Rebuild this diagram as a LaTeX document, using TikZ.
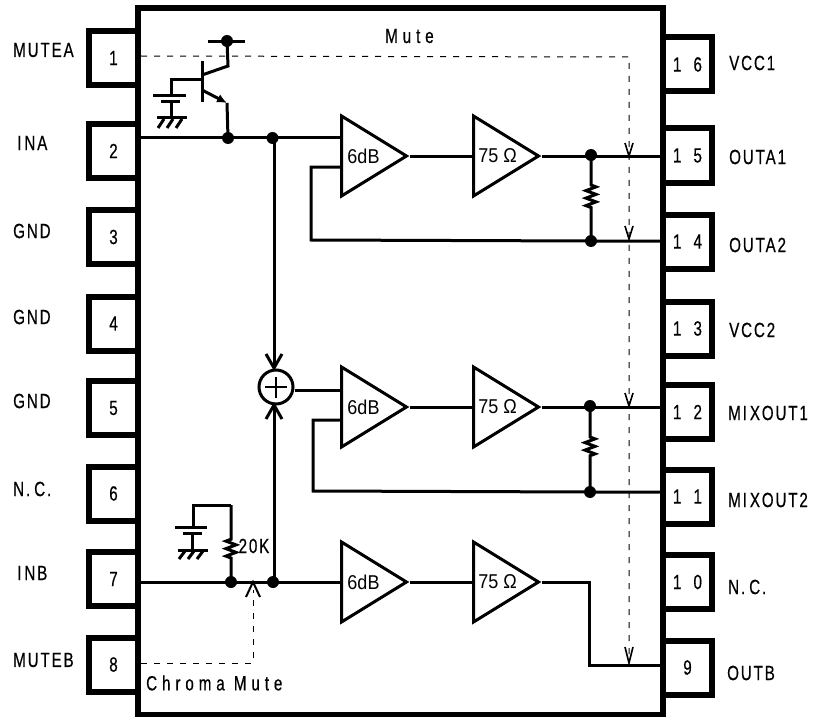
\documentclass[tikz,border=0pt]{standalone}
\usepackage{fontspec}
\setmainfont{Liberation Sans}
\newfontfamily\pinfont[FakeStretch=0.74,LetterSpace=9,FakeBold=0.5]{Liberation Sans}
\newfontfamily\mutefont[FakeStretch=0.74,LetterSpace=24,FakeBold=0.5]{Liberation Sans}
\newfontfamily\ampfont[FakeStretch=0.9]{Liberation Sans}
\usetikzlibrary{arrows.meta,shapes.geometric,decorations.pathmorphing}
\newcommand{\pinnum}[2]{#1 \kern6pt #2}
\tikzset{
  wire/.style={line width=3pt,line join=miter},
  thin wire/.style={line width=2pt},
  chip/.style={draw,rectangle,line width=6pt,inner sep=0pt},
  pin/.style={draw,rectangle,line width=6pt,minimum width=49pt,minimum height=54pt,inner sep=0pt,fill=white,font=\pinfont\fontsize{20.5}{20.5}\selectfont},
  lab/.style={anchor=west,inner sep=0pt,font=\pinfont\fontsize{20.5}{20.5}\selectfont},
  mutelab/.style={anchor=west,inner sep=0pt,font=\mutefont\fontsize{20.5}{20.5}\selectfont},
  amp/.style={draw,isosceles triangle,isosceles triangle stretches,shape border rotate=0,minimum width=80pt,minimum height=65pt,inner sep=0pt,line width=3pt,anchor=lower side,line join=miter},
  amptext/.style={inner sep=0pt,font=\ampfont\fontsize{20}{20}\selectfont},
  dot/.style={circle,fill=black,inner sep=0pt,minimum size=12pt},
  res/.style={wire,decorate,decoration={zigzag,amplitude=5pt,segment length=7.5pt,pre=lineto,post=lineto}},
  mute/.style={line width=1pt,black,dash pattern=on 6pt off 7pt},
  barb/.style={line width=1.6pt,line join=miter},
  tip/.style={-{Straight Barb[length=14pt,width=16pt]}}
}
\begin{document}
\begin{tikzpicture}[x=1pt,y=-1pt]
    \useasboundingbox (0,0) rectangle (815,717);
    % pins
    \node[pin] (pa) at (113.5,58) {1};
    \node[pin] (pb) at (113.5,151) {2};
    \node[pin] (pc) at (113.5,237) {3};
    \node[pin] (pd) at (113.5,323.5) {4};
    \node[pin] (pe) at (113.5,408) {5};
    \node[pin] (pf) at (113.5,493.5) {6};
    \node[pin] (pg) at (113.5,579) {7};
    \node[pin] (ph) at (113.5,664.5) {8};
    \node[pin] (pp) at (687.5,64.5) {\pinnum{1}{6}};
    \node[pin] (po) at (687.5,155.5) {\pinnum{1}{5}};
    \node[pin] (pn) at (687.5,241.5) {\pinnum{1}{4}};
    \node[pin] (pm) at (687.5,328.5) {\pinnum{1}{3}};
    \node[pin] (pl) at (687.5,412) {\pinnum{1}{2}};
    \node[pin] (pk) at (687.5,496.5) {\pinnum{1}{1}};
    \node[pin] (pj) at (687.5,582) {\pinnum{1}{0}};
    \node[pin] (pi) at (687.5,667.5) {9};
    \node[chip,minimum width=525pt,minimum height=706pt,fill=white] (ic) at (400.5,361.5) {};
    % pin names
    \node[lab] (la) at (13,50) {MUTEA};
    \node[lab] (lb) at (17,143) {I\kern3pt NA};
    \node[lab] (lc) at (13,231) {GND};
    \node[lab] (ld) at (13,317) {GND};
    \node[lab] (le) at (13,401) {GND};
    \node[lab] (lf) at (13,489) {N.\kern4pt C.};
    \node[lab] (lg) at (17,573) {I\kern3pt NB};
    \node[lab] (lh) at (13,660) {MUTEB};
    \node[lab] (lp) at (729,63) {VCC1};
    \node[lab] (lo) at (729,157) {OUTA1};
    \node[lab] (ln) at (729,245) {OUTA2};
    \node[lab] (lm) at (729,330) {VCC2};
    \node[lab] (ll) at (728,413) {MI\kern3pt XOUT1};
    \node[lab] (lk) at (728,500) {MI\kern3pt XOUT2};
    \node[lab] (lj) at (728,587) {N.\kern4pt C.};
    \node[lab] (li) at (727,673) {OUTB};
    \node[mutelab] (ma) at (385,36) {Mute};
    \node[mutelab] (mb) at (146,683) {Chroma Mute};
    % amplifiers
    \node[amp] (aa) at (340,156) {};
    \node[amp] (ab) at (472,156) {};
    \node[amp] (ba) at (340,407) {};
    \node[amp] (bb) at (472,407) {};
    \node[amp] (ca) at (340,582) {};
    \node[amp] (cb) at (472,582) {};
    \node[amptext] (ta) at (363.5,156) {6dB};
    \node[amptext] (tb) at (497.5,156) {75 Ω};
    \node[amptext] (tc) at (363.5,407) {6dB};
    \node[amptext] (td) at (497.5,407) {75 Ω};
    \node[amptext] (te) at (363.5,582) {6dB};
    \node[amptext] (tf) at (497.5,582) {75 Ω};
    \node[lab,anchor=center] (tg) at (254,546) {20K};
    % junctions
    \node[dot] (da) at (228,138) {};
    \node[dot] (db) at (272.5,138) {};
    \node[dot] (dc) at (591,155) {};
    \node[dot] (dd) at (591,241) {};
    \node[dot] (de) at (590,406) {};
    \node[dot] (df) at (590,492) {};
    \node[dot] (dg) at (231,582) {};
    \node[dot] (dh) at (273,582) {};
    \node[dot] (di) at (227,41) {};
    \node[circle,draw,line width=3pt,minimum size=34pt,inner sep=0pt,fill=white] (sum) at (276,387) {};
    \coordinate (st) at (274,371);
    \coordinate (sb) at (274,402);
    \coordinate (rc) at (589,582);
    % signal wires
    \draw[wire] (pb.east |- da.center) -- (da.center) -- (db.center) -- (aa.lower side |- db.center);
    \draw[wire,tip] (274,138) -- (st);
    \draw[wire,tip] (274,582) -- (sb);
    \draw[wire] (sum.east |- 0,390) -- (ba.lower side |- 0,390);
    \draw[wire] (aa.apex) -- (ab.lower side);
    \draw[wire] (ba.apex) -- (bb.lower side);
    \draw[wire] (ca.apex) -- (cb.lower side);
    \draw[wire] (ab.apex) -- (po.west |- ab.apex);
    \draw[wire] (bb.apex) -- (pl.west |- bb.apex);
    \draw[wire] (cb.apex) -- (rc) -- (rc |- 0,665) -- (pi.west |- 0,665);
    \draw[wire] (pg.east |- ca.lower side) -- (ca.lower side);
    \draw[wire] (aa.lower side |- 0,167) -- (311,167) -- (311,240) -- (dd.center) -- (pn.west |- dd.center);
    \draw[wire] (ba.lower side |- 0,420) -- (313,420) -- (313,491) -- (df.center) -- (pk.west |- df.center);
    % load resistors
    \draw[res,decoration={pre length=30pt,post length=33pt}] (dc.center) -- (dd.center);
    \draw[res,decoration={pre length=31pt,post length=33pt}] (de.center) -- (df.center);
    % summing cross
    \draw[thin wire] (265,387) -- (287,387) (276,377) -- (276,398);
    % transistor
    \draw[wire] (202,61) -- (202,102);
    \draw[wire] (208,42) -- (245,42);
    \draw[wire] (di.center) -- (228,66) -- (202,75);
    \draw[wire,-{Latex[length=10pt,width=9pt]}] (202,90) -- (227,103);
    \draw[wire] (227,103) -- (da.center);
    \draw[wire] (202,80) -- (171,80) -- (171,96);
    \draw[wire] (153,96) -- (186,96);
    \draw[wire] (161,102) -- (180,102);
    \draw[wire] (171,102) -- (171,118);
    \draw[wire] (157,118) -- (187,118);
    \draw[wire] (164,119) -- (158,128) (173,119) -- (167,128) (182,119) -- (176,128);
    % input filter
    \draw[res,decoration={pre length=24pt,post length=31pt}] (dg.center) -- (231,505);
    \draw[wire] (231,505) -- (193,505) -- (193,527);
    \draw[wire] (175,527) -- (207,527);
    \draw[wire] (183,533) -- (202,533);
    \draw[wire] (192,533) -- (192,550);
    \draw[wire] (178,550) -- (208,550);
    \draw[wire] (185,551) -- (179,559) (194,551) -- (188,559) (203,551) -- (197,559);
    % mute lines
    \draw[mute] (141,56) -- (629,57) -- (629,663);
    \draw[mute] (141,663) -- (253,663) -- (253,590);
    \coordinate (va) at (629,156);
    \coordinate (vb) at (629,239);
    \coordinate (vc) at (629,406);
    \coordinate (vd) at (629,663);
    \coordinate (ve) at (253,582);
    \draw[barb] (va) ++(-4,-13) -- (va) -- ++(4,-13);
    \draw[barb] (vb) ++(-4,-13) -- (vb) -- ++(4,-13);
    \draw[barb] (vc) ++(-4,-13) -- (vc) -- ++(4,-13);
    \draw[barb] (vd) ++(-4,-16) -- (vd) -- ++(4,-16);
    \draw[wire,line width=2pt] (ve) ++(-7,15) -- (ve) -- ++(7,15);
\end{tikzpicture}
\end{document}
